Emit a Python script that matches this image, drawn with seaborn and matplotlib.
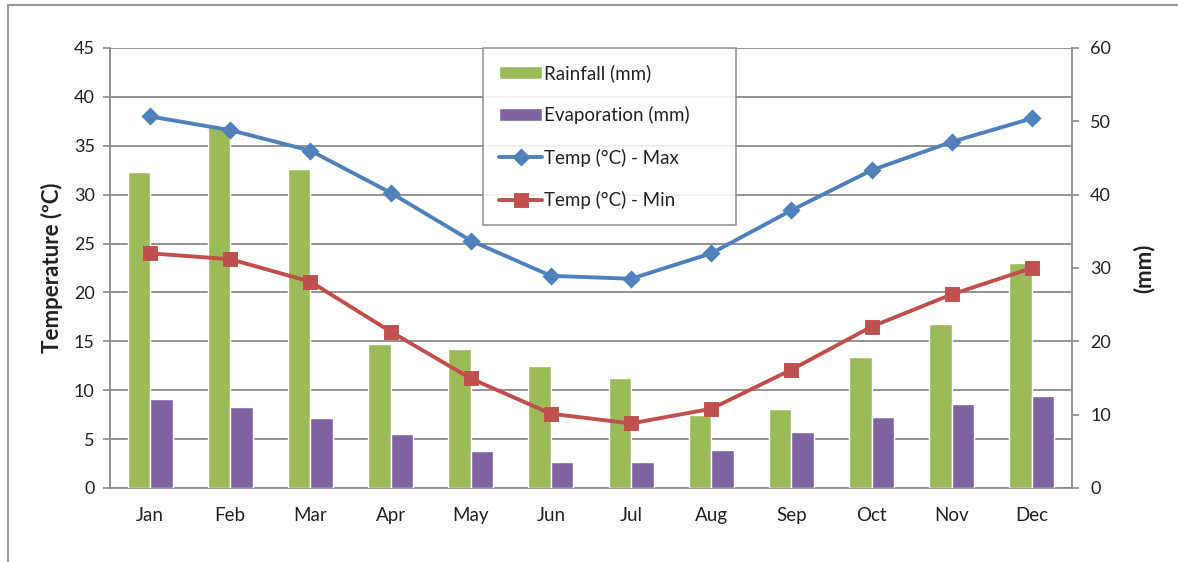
import numpy as np
import pandas as pd
import matplotlib
matplotlib.use("Agg")
import matplotlib.pyplot as plt
from matplotlib.patches import Rectangle
import seaborn as sns

# Monthly climate data
months = ["Jan", "Feb", "Mar", "Apr", "May", "Jun",
          "Jul", "Aug", "Sep", "Oct", "Nov", "Dec"]
rainfall_mm = [43.1, 49.2, 43.5, 19.7, 19.0, 16.6, 15.0, 10.0, 10.8, 17.8, 22.4, 30.7]
evaporation_mm = [12.1, 11.0, 9.5, 7.3, 5.0, 3.6, 3.6, 5.2, 7.6, 9.7, 11.4, 12.5]
temp_max = [38.0, 36.6, 34.5, 30.2, 25.3, 21.7, 21.4, 24.0, 28.4, 32.5, 35.4, 37.8]
temp_min = [24.0, 23.4, 21.1, 16.0, 11.2, 7.6, 6.6, 8.1, 12.1, 16.5, 19.8, 22.5]

bar_series = ["Rainfall (mm)", "Evaporation (mm)"]
line_series = ["Temp (°C) - Max", "Temp (°C) - Min"]

GREEN = "#9BBB59"
PURPLE = "#8064A2"
BLUE = "#4F81BD"
RED = "#C0504D"
GREY = "#8a8a8a"
TEXT = "#222222"

df_bars = pd.DataFrame({
    "month": months * 2,
    "series": [bar_series[0]] * 12 + [bar_series[1]] * 12,
    "value": rainfall_mm + evaporation_mm,
})
df_temp = pd.DataFrame({
    "month": months * 2,
    "series": [line_series[0]] * 12 + [line_series[1]] * 12,
    "temp": temp_max + temp_min,
})

sns.set_style("white")
plt.rcParams["font.family"] = ["Lato", "DejaVu Sans"]

fig = plt.figure(figsize=(11.78, 5.62), dpi=100)
rect = [110 / 1178, 1 - 488 / 562, 962 / 1178, 440 / 562]

# temperature axis: gridlines and left ticks
ax_t = fig.add_axes(rect)
ax_t.set_zorder(0)
# rainfall / evaporation axis (mm), drawn above the gridlines
ax_b = ax_t.twinx()
ax_b.set_zorder(1)
# temperature lines, drawn above the bars
ax_l = fig.add_axes(rect, sharex=ax_t, sharey=ax_t)
ax_l.set_zorder(2)
ax_l.patch.set_visible(False)

sns.barplot(data=df_bars, x="month", y="value", hue="series",
            order=months, hue_order=bar_series, palette=[GREEN, PURPLE],
            width=0.56, gap=0, saturation=1, errorbar=None, ax=ax_b)

sns.pointplot(data=df_temp, x="month", y="temp", hue="series",
              order=months, hue_order=line_series, palette=[BLUE, RED],
              markers=["D", "s"], linestyles=["-", "-"], errorbar=None,
              markersize=9, linewidth=2.8, ax=ax_l)

hb, lb = ax_b.get_legend_handles_labels()
hl, ll = ax_l.get_legend_handles_labels()
for a in (ax_b, ax_l):
    if a.get_legend() is not None:
        a.get_legend().remove()

# smaller diamonds for the maximum series
for ln in list(ax_l.lines) + list(hl):
    if hasattr(ln, "get_marker") and ln.get_marker() == "D":
        ln.set_markersize(7)

# axis ranges and ticks
ax_t.set_ylim(0, 45)
ax_t.set_yticks(np.arange(0, 46, 5))
ax_b.set_ylim(0, 60)
ax_b.set_yticks(np.arange(0, 61, 10))
ax_t.set_xlim(-0.5, 11.5)
ax_t.set_xticks(range(12), months)
ax_t.set_xticks(np.arange(-0.5, 12, 1), minor=True)

ax_t.yaxis.grid(True, color=GREY, lw=1.3)
ax_t.xaxis.grid(False)
ax_t.set_axisbelow(True)

ax_t.tick_params(axis="x", which="major", length=0, pad=14, labelsize=13.5, labelcolor=TEXT)
ax_t.tick_params(axis="x", which="minor", length=6, width=1.2, color=GREY)
ax_t.tick_params(axis="y", length=5, width=1.2, color=GREY, labelsize=13,
                 labelcolor=TEXT, pad=6)
ax_b.tick_params(axis="y", length=5, width=1.2, color=GREY, labelsize=13,
                 labelcolor=TEXT, pad=8)

for s in ("top", "right"):
    ax_t.spines[s].set_visible(False)
for s in ("left", "bottom"):
    ax_t.spines[s].set_color(GREY)
    ax_t.spines[s].set_linewidth(1.3)
for s in ("top", "left", "bottom"):
    ax_b.spines[s].set_visible(False)
ax_b.spines["right"].set_color(GREY)
ax_b.spines["right"].set_linewidth(1.3)

ax_t.set_xlabel("")
ax_b.set_xlabel("")
ax_t.set_ylabel("Temperature (ºC)", fontsize=16, fontweight="bold",
                color=TEXT, labelpad=8)
ax_b.set_ylabel("(mm)", fontsize=16, fontweight="bold", color=TEXT, labelpad=16)

ax_l.axis("off")

leg = ax_l.legend(hb + hl, lb + ll, loc="upper left",
                  bbox_to_anchor=(0.388, 1.0, 0.263, 0.0), mode="expand",
                  fontsize=13.5, labelspacing=1.3, handlelength=2.3,
                  handletextpad=0.1, borderpad=0.85, borderaxespad=0,
                  fancybox=False, frameon=True, framealpha=0.88)
leg.get_frame().set_edgecolor(GREY)
leg.get_frame().set_linewidth(1.2)
for t in leg.get_texts():
    t.set_color(TEXT)

# outer frame around the figure
fig.add_artist(Rectangle((8 / 1178, -0.05), 1.2, 1.05 - 5 / 562,
                         transform=fig.transFigure, fill=False,
                         edgecolor="#9a9a9a", lw=1.5))

fig.savefig("out.png", dpi=100)
